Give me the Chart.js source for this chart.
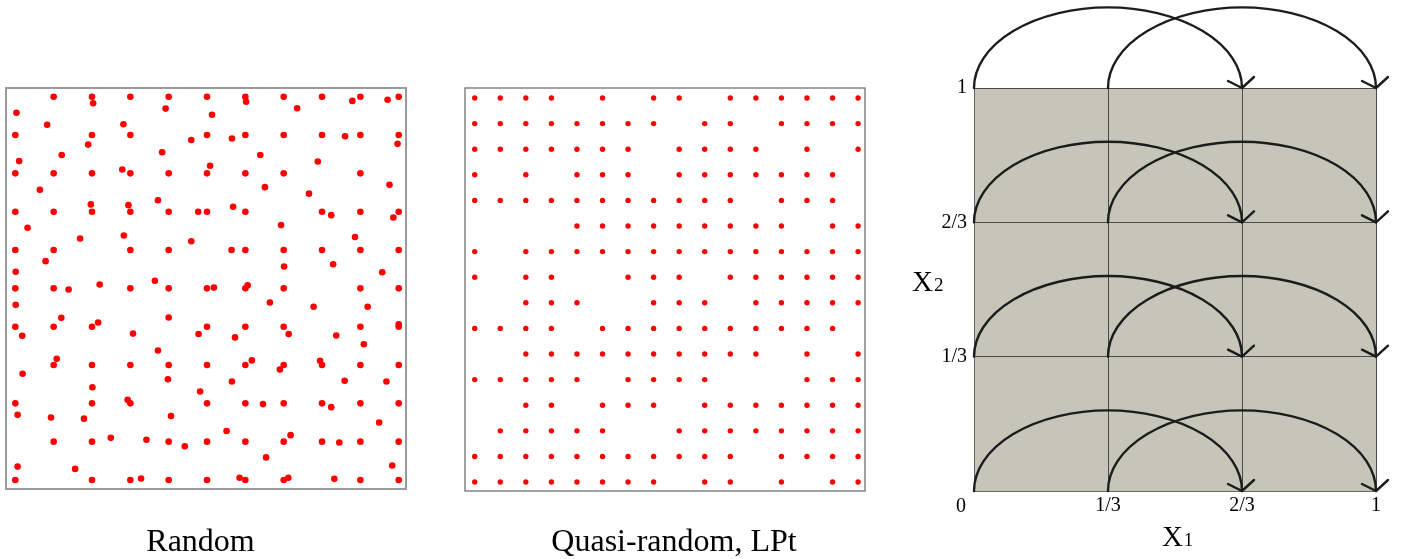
<!DOCTYPE html>
<html><head><meta charset="utf-8">
<script src="https://cdn.jsdelivr.net/npm/chart.js@4.4.1/dist/chart.umd.min.js"></script>
<style>
html,body{margin:0;padding:0;background:#fff;width:1403px;height:559px;overflow:hidden;}
.panel{position:absolute;top:0;height:559px;}
</style></head><body>
<div class="panel" style="left:0;width:440px"><canvas id="c1"></canvas></div>
<div class="panel" style="left:440px;width:450px"><canvas id="c2"></canvas></div>
<div class="panel" style="left:890px;width:513px"><canvas id="c3"></canvas></div>
<script>
// ---------- Panel 1: random points (x, y) ----------
const randomPoints = [
 [1,10],[2,10],[2.03,9.83],[3,10],[4,10],[5,10],
 [0.03,9.58],[3.92,9.69],[5.13,9.53],[0.83,9.27],[2.82,9.28],
 [0,9],[2,9],[3,9],[5,9],
 [4.59,8.87],[1.90,8.75],[1.21,8.48],[3.83,8.55],[0.10,8.32],[5.08,8.20],
 [0,8],[1,8],[2,8],[2.79,8.10],[3,8],[4,8],[5,8],
 [0.64,7.57],[3.72,7.30],[1.97,7.19],[2.95,7.17],
 [0,7],[1,7],[2,7],[3,7],[4,7],[4.77,7],[5,7],
 [0.32,6.58],[1.69,6.30],[2.83,6.38],[4.59,6.23],
 [0,6],[1,6],[3,6],[4,6],
 [0.79,5.71],[0.01,5.43],[3.64,5.20],[2.20,5.10],
 [0,5],[1,5],[1.39,4.97],[3,5],[4,5],[5,5],
 [0.01,4.57],[1.20,4.23],[2.16,4.11],[4.0,4.24],
 [0,4],[1,4],[2,4],[5,4],
 [0.18,3.76],[3.07,3.82],[4.78,3.81],[3.72,3.38],[1.08,3.16],
 [1,3],[2,3],[3,3],[4,3],[5,3],
 [0.19,2.77],[3.98,2.63],[2.01,2.42],[4.82,2.31],
 [0,2],[2,2],[2.93,2.09],[3,2],[5,2],
 [0.06,1.70],[0.93,1.63],[1.79,1.60],[4.06,1.67],
 [1,1],[2,1],[2.49,1.10],[3.42,1.05],[4,1],[4.42,0.88],[5,1],
 [0.06,0.35],[1.56,0.29],
 [0,0],[2,0],[3,0],[3.28,0.04],[4,0],[5,0],
 [6,10],[6.02,9.87],[7,10],[7.35,9.70],[8,10],[8.79,9.89],[9,10],[9.71,9.92],[10,10],
 [5.65,8.91],[6,9],[7,9],[8,9],[8.60,8.97],[9,9],[10,9],[9.97,8.77],
 [6.39,8.48],[7.89,8.31],[6,8],[7,8],[9,8],
 [6.51,7.64],[7.66,7.47],[9.76,7.70],[5.68,7.13],
 [6,7],[8,7],[8.24,6.91],[9,7],[10,7],[9.86,6.85],
 [6.93,6.65],[8.86,6.34],
 [5.64,6],[6,6],[7,6],[8,6],[9,6],[10,6],
 [7.01,5.57],[8.29,5.63],[9.57,5.42],
 [5.18,5.02],[6,5],[6.06,5.08],[7,5],[9,5],[10,5],
 [6.64,4.63],[7.78,4.52],[9.19,4.52],
 [6,4],[7,4],[9,4],[10,4.06],[10,4],
 [5.73,3.72],[7.13,3.81],[8.37,3.77],[9.09,3.54],
 [6.17,3.12],[6,3],[7,3],[6.90,2.88],[7.95,3.11],[8,3],[9,3],[10,3],
 [5.65,2.57],[8.59,2.59],[9.68,2.57],
 [6,2],[6.46,1.98],[7,2],[8,2],[8.24,1.90],[9,2],[10,2],
 [9.49,1.50],[5.51,1.28],[7.18,1.17],
 [6,1],[7,1],[8,1],[8.45,0.98],[9,1],[10,1],
 [6.54,0.59],[9.83,0.38],
 [5.85,0.06],[6,0],[7,0],[7.12,0.06],[8.32,0.03],[9,0],[10,0]
];

// ---------- Panel 2: LPt grid, filled columns per row (top row first) ----------
const lptRows = [
 [0,1,2,3,5,7,8,10,11,12,13,14,15],
 [0,1,2,3,4,5,6,7,9,10,12,13,14,15],
 [0,1,2,3,4,5,6,8,9,10,11,13,15],
 [0,2,4,5,6,8,9,10,11,12,13,14],
 [0,1,2,3,4,5,6,7,8,9,10,12,13,14],
 [4,5,6,7,8,9,10,11,12,14,15],
 [0,2,3,4,5,6,7,8,9,10,11,12,13,14,15],
 [0,2,3,6,7,8,10,11,12,13,14,15],
 [2,3,4,7,8,9,11,12,13,14,15],
 [0,1,2,3,5,6,7,8,9,10,11,12,13,14],
 [2,3,4,5,6,7,8,9,10,11,13,15],
 [0,1,2,3,4,6,7,8,9,13,14,15],
 [2,3,5,6,7,9,10,11,12,13,14,15],
 [1,2,3,4,5,8,9,10,11,12,13,14,15],
 [0,1,2,3,4,5,6,7,8,9,10,12,13,14,15],
 [0,1,2,3,4,5,6,7,9,10,12,14,15]
];

// ---------- Panel 3: stratification diagram ----------
const x1TickValues = [1/3, 2/3, 1];
const x1TickLabels = ['1/3', '2/3', '1'];
const x2TickValues = [1/3, 2/3, 1];
const x2TickLabels = ['1/3', '2/3', '1'];
const arcBaselines = [0, 1/3, 2/3, 1];
const arcStarts = [0, 1/3];
const arcEnds = [2/3, 1];
const arcRise = 0.2;

const panelTitles = ['Random', 'Quasi-random, LPt'];

const SERIF = "'Liberation Serif', 'Times New Roman', serif";

const boxPlugin = (color, width) => ({
  id: 'box',
  beforeDatasetsDraw(chart) {
    const a = chart.chartArea, ctx = chart.ctx;
    ctx.save();
    ctx.strokeStyle = color; ctx.lineWidth = width;
    ctx.strokeRect(a.left, a.top, a.right - a.left, a.bottom - a.top);
    ctx.restore();
  }
});

const captionPlugin = (text, dx, dy) => ({
  id: 'caption',
  afterDraw(chart) {
    const a = chart.chartArea, ctx = chart.ctx;
    ctx.save();
    ctx.fillStyle = '#000';
    ctx.font = '32px ' + SERIF;
    ctx.textAlign = 'center';
    ctx.textBaseline = 'alphabetic';
    ctx.fillText(text, (a.left + a.right) / 2 + dx, a.bottom + dy);
    ctx.restore();
  }
});

const baseOpts = {
  animation: false, responsive: true, maintainAspectRatio: false, events: [],
  plugins: { legend: { display: false }, tooltip: { enabled: false } }
};

new Chart(document.getElementById('c1'), {
  type: 'scatter',
  data: { datasets: [{ data: randomPoints.map(p => ({ x: p[0], y: p[1] })), backgroundColor: '#ff0000', borderWidth: 0, pointRadius: 3.3, clip: false }] },
  options: Object.assign({}, baseOpts, {
    layout: { padding: { left: 6, top: 88, right: 34, bottom: 70 } },
    scales: {
      x: { type: 'linear', min: -0.243, max: 10.19, display: false },
      y: { type: 'linear', min: -0.235, max: 10.227, display: false }
    }
  }),
  plugins: [boxPlugin('#9a9a9a', 2), captionPlugin(panelTitles[0], -5.5, 62)]
});

const lptPoints = [];
lptRows.forEach((cols, r) => cols.forEach(c => lptPoints.push({ x: c, y: 15 - r })));

new Chart(document.getElementById('c2'), {
  type: 'scatter',
  data: { datasets: [{ data: lptPoints, backgroundColor: '#ff0000', borderWidth: 0, pointRadius: 2.7, clip: false }] },
  options: Object.assign({}, baseOpts, {
    layout: { padding: { left: 25, top: 88, right: 25, bottom: 68 } },
    scales: {
      x: { type: 'linear', min: -0.38, max: 15.27, display: false },
      y: { type: 'linear', min: -0.35, max: 15.39, display: false }
    }
  }),
  plugins: [boxPlugin('#707070', 1.3), captionPlugin(panelTitles[1], 9, 60)]
});

const diagramPlugin = {
  id: 'diagram',
  beforeDraw(chart) {
    const a = chart.chartArea, ctx = chart.ctx;
    ctx.save();
    ctx.fillStyle = '#c5c5b9';
    ctx.fillRect(a.left, a.top, a.right - a.left, a.bottom - a.top);
    ctx.restore();
  },
  afterDraw(chart) {
    const ctx = chart.ctx, xs = chart.scales.x, ys = chart.scales.y, a = chart.chartArea;
    ctx.save();
    ctx.strokeStyle = '#1c1c1c';
    ctx.lineWidth = 2.4;
    ctx.lineCap = 'round'; ctx.lineJoin = 'round';
    arcBaselines.forEach(b => {
      arcStarts.forEach((s, i) => {
        const x0 = xs.getPixelForValue(s), x1 = xs.getPixelForValue(arcEnds[i]);
        const yb = ys.getPixelForValue(b), yt = ys.getPixelForValue(b + arcRise);
        ctx.beginPath();
        ctx.ellipse((x0 + x1) / 2, yb, (x1 - x0) / 2, yb - yt, 0, Math.PI, 2 * Math.PI);
        ctx.stroke();
        ctx.beginPath();
        ctx.moveTo(x1 - 14, yb - 7);
        ctx.lineTo(x1, yb);
        ctx.lineTo(x1 + 12, yb - 11);
        ctx.stroke();
      });
    });
    // labels
    ctx.fillStyle = '#000';
    ctx.textBaseline = 'alphabetic';
    ctx.textAlign = 'right';
    ctx.font = '20px ' + SERIF;
    ctx.fillText('0', a.left - 8, a.bottom + 20.5);
    ctx.textAlign = 'left';
    const yMid = ys.getPixelForValue(0.5) + 1;
    ctx.font = '29px ' + SERIF;
    ctx.fillText('X', a.left - 62, yMid);
    const wX = ctx.measureText('X').width;
    ctx.font = '19px ' + SERIF;
    ctx.fillText('2', a.left - 62 + wX + 1, yMid);
    const xMid = (a.left + a.right) / 2;
    ctx.font = '29px ' + SERIF;
    ctx.fillText('X', xMid - 13, a.bottom + 55);
    ctx.font = '18px ' + SERIF;
    ctx.fillText('1', xMid - 13 + wX + 1, a.bottom + 55);
    ctx.restore();
  }
};

const tickFont = { family: SERIF, size: 20 };
new Chart(document.getElementById('c3'), {
  type: 'scatter',
  data: { datasets: [] },
  options: Object.assign({}, baseOpts, {
    layout: { padding: { left: 44, top: 88, right: 27, bottom: 0 } },
    scales: {
      x: {
        type: 'linear', min: 0, max: 1,
        afterBuildTicks: s => { s.ticks = x1TickValues.map(v => ({ value: v })); },
        ticks: { callback: (v, i) => x1TickLabels[i], font: tickFont, color: '#000', padding: 3, maxRotation: 0, autoSkip: false },
        grid: { color: '#4a4a4a', lineWidth: 1, drawTicks: false },
        border: { display: true, color: '#666', width: 1 },
        afterFit: s => { s.height = 68; }
      },
      y: {
        type: 'linear', min: 0, max: 1,
        afterBuildTicks: s => { s.ticks = x2TickValues.map(v => ({ value: v })); },
        ticks: { callback: (v, i) => x2TickLabels[i], font: tickFont, color: '#000', padding: 7, autoSkip: false },
        grid: { color: '#4a4a4a', lineWidth: 1, drawTicks: false },
        border: { display: true, color: '#666', width: 1 },
        afterFit: s => { s.width = 40; }
      }
    }
  }),
  plugins: [diagramPlugin]
});
</script>
</body></html>
